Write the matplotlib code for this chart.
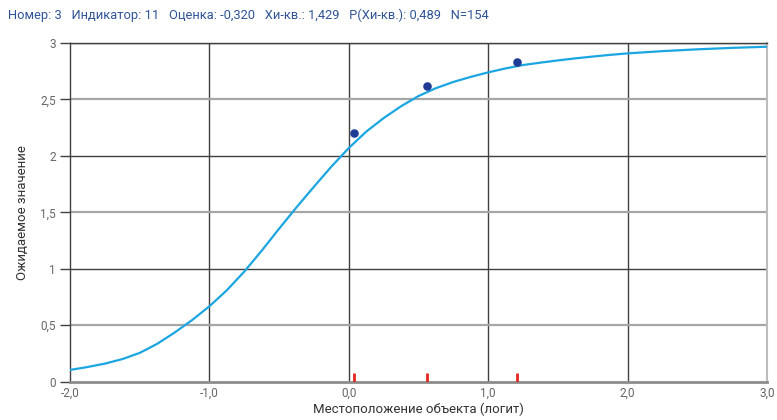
import matplotlib
matplotlib.use("Agg")
import matplotlib.pyplot as plt
import numpy as np

plt.rcParams['font.family'] = ['Roboto', 'DejaVu Sans']

# expected score curve (logit, expected value)
curve_x = [-2.0, -1.875, -1.75, -1.625, -1.5, -1.375, -1.25, -1.125, -1.0,
           -0.875, -0.75, -0.625, -0.5, -0.375, -0.25, -0.125, 0.0,
           0.125, 0.25, 0.375, 0.5, 0.625, 0.75, 0.875, 1.0, 1.125, 1.25,
           1.375, 1.5, 1.625, 1.75, 1.875, 2.0, 2.25, 2.5, 2.75, 3.0]
curve_y = [0.104, 0.13, 0.16, 0.20, 0.255, 0.335, 0.435, 0.545, 0.668,
           0.81, 0.975, 1.16, 1.355, 1.545, 1.727, 1.905, 2.07,
           2.215, 2.335, 2.44, 2.53, 2.60, 2.655, 2.70, 2.74, 2.775, 2.805,
           2.826, 2.846, 2.864, 2.88, 2.895, 2.908, 2.928, 2.944, 2.957, 2.967]

# observed group means
obs_x = [0.04, 0.56, 1.21]
obs_y = [2.20, 2.62, 2.83]

xticks = [-2, -1, 0, 1, 2, 3]
xtick_labels = ["-2,0", "-1,0", "0,0", "1,0", "2,0", "3,0"]
yticks = [0, 0.5, 1, 1.5, 2, 2.5, 3]
ytick_labels = ["0", "0,5", "1", "1,5", "2", "2,5", "3"]

title = ("Номер: 3   Индикатор: 11   Оценка: -0,320   Хи-кв.: 1,429   "
         "Р(Хи-кв.): 0,489   N=154")

fig = plt.figure(figsize=(7.77, 4.2), dpi=100)
ax = fig.add_axes([0.0901, 0.0912, 0.8970, 0.8064])

dark = "#404040"
light = "#a6a6a6"

for v in [-1, 0, 1, 2]:
    ax.axvline(v, color=dark, lw=1.0, zorder=1)
for v in yticks[1:]:
    if v == int(v):
        ax.axhline(v, color=dark, lw=1.0, zorder=1)
    else:
        ax.axhline(v, color=light, lw=1.6, zorder=1)

ax.plot(curve_x, curve_y, color="#1ba6e2", lw=1.6, zorder=3,
        solid_joinstyle="round")
ax.scatter(obs_x, obs_y, s=38, color="#1f3b94", zorder=4, linewidths=0)
ax.vlines(obs_x, 0, 0.08, color="#e8251f", lw=2.0, zorder=4)

ax.set_xlim(-2, 3)
ax.set_ylim(0, 3)

ax.spines['left'].set_color(dark)
ax.spines['left'].set_linewidth(1.0)
ax.spines['bottom'].set_color("#8c8c8c")
ax.spines['bottom'].set_linewidth(2.0)
ax.spines['right'].set_color("#bdbdbd")
ax.spines['right'].set_linewidth(1.5)
ax.spines['top'].set_color(dark)
ax.spines['top'].set_linewidth(1.0)

ax.set_xticks(xticks)
ax.set_xticklabels(xtick_labels)
ax.set_yticks(yticks)
ax.set_yticklabels(ytick_labels)
ax.tick_params(axis='x', length=0, pad=4, labelsize=8.5, labelcolor="#666666")
ax.tick_params(axis='y', length=7, width=1.0, color=dark, pad=3,
               labelsize=8.5, labelcolor="#666666")

fig.text(0.539, 0.026, "Местоположение объекта (логит)", fontsize=9.5,
         color="#333333", ha="center", va="center")
fig.text(0.029, 0.495, "Ожидаемое значение", fontsize=9.5, color="#333333",
         ha="center", va="center", rotation=90)

fig.text(0.010, 0.955, title, fontsize=9.3, color="#2f5496",
         ha="left", va="baseline")

fig.savefig("out.png", dpi=100)
